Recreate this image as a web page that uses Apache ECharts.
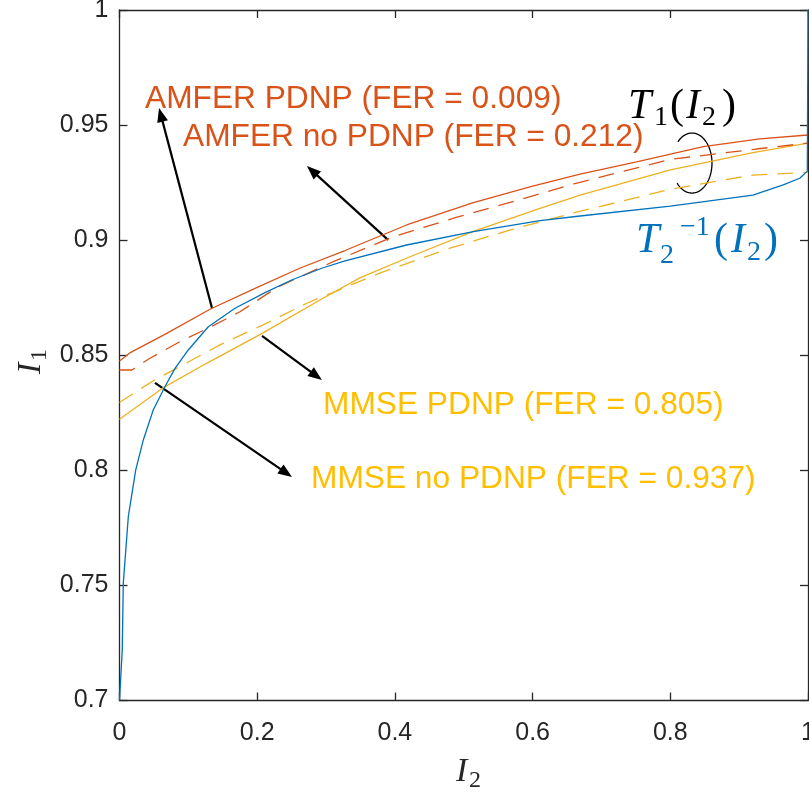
<!DOCTYPE html>
<html><head><meta charset="utf-8">
<script src="https://cdn.jsdelivr.net/npm/echarts@6/dist/echarts.min.js"></script>
<style>html,body{margin:0;padding:0;background:#fff}#c{width:809px;height:800px}</style>
</head><body><div id="c"></div>
<script>
// ---- data ----
const xTicks = [0, 0.2, 0.4, 0.6, 0.8, 1];
const yTicks = [0.7, 0.75, 0.8, 0.85, 0.9, 0.95, 1];

const t2Inverse = [[0,0.7],[0.004,0.7219],[0.0055,0.751],[0.0128,0.7799],[0.0235,0.8001],[0.0346,0.8132],[0.049,0.8262],[0.066,0.8363],[0.0806,0.8443],[0.0999,0.8523],[0.129,0.8624],[0.1678,0.8704],[0.2113,0.8772],[0.2501,0.8827],[0.2937,0.8878],[0.3275,0.891],[0.417,0.8979],[0.514,0.9037],[0.611,0.9085],[0.669,0.9105],[0.8,0.9148],[0.92,0.9196],[0.964,0.924],[0.988,0.9269],[0.999,0.930],[1,1.0]];
const amferPdnp = [[0,0.8475],[0.015,0.851],[0.0686,0.8595],[0.1314,0.870],[0.2,0.8795],[0.2625,0.8879],[0.3275,0.8955],[0.417,0.9066],[0.514,0.9163],[0.6,0.9235],[0.669,0.9287],[0.751,0.934],[0.848,0.9406],[0.93,0.944],[1,0.9457]];
const amferNoPdnp = [[0,0.8436],[0.018,0.8436],[0.0443,0.8487],[0.0879,0.8559],[0.131,0.8621],[0.175,0.8689],[0.230,0.8797],[0.313,0.891],[0.397,0.9014],[0.490,0.910],[0.577,0.9172],[0.66,0.9245],[0.8,0.9351],[0.925,0.9396],[1,0.9422]];
const mmseNoPdnp = [[0,0.8222],[0.063,0.8358],[0.1266,0.8465],[0.2085,0.8597],[0.291,0.874],[0.349,0.8836],[0.422,0.8928],[0.513,0.9037],[0.6107,0.9138],[0.669,0.9196],[0.8,0.9305],[0.92,0.938],[1,0.9422]];
const mmsePdnp = [[0,0.8295],[0.049,0.8389],[0.1024,0.8475],[0.146,0.8545],[0.2085,0.8632],[0.272,0.8726],[0.378,0.8857],[0.48,0.8965],[0.567,0.9044],[0.659,0.9118],[0.8,0.9221],[0.92,0.9283],[0.993,0.9293],[1,0.9295]];

// annotation arrows: [tail, head] in data units
const arrows = [
  [[0.1343,0.8705],[0.0574,0.9574]],
  [[0.39,0.9001],[0.2723,0.9322]],
  [[0.207,0.8584],[0.294,0.8393]],
  [[0.0516,0.838],[0.2505,0.7971]]
];
const ellipseCenter = [0.8315, 0.9335];

const labelTexts = [
  {text:'AMFER PDNP (FER = 0.009)', x:145, y:99, color:'#D95319'},
  {text:'AMFER no PDNP (FER = 0.212)', x:183, y:137, color:'#D95319'},
  {text:'MMSE PDNP (FER = 0.805)', x:323, y:405, color:'#FFBF00'},
  {text:'MMSE no PDNP (FER = 0.937)', x:311, y:479, color:'#FFBF00'}
];

// ---- chart ----
const AX = '#262626';
const chart = echarts.init(document.getElementById('c'));
function fmt(v){ return String(+v.toFixed(2)); }
const baseX = {type:'value', min:0, max:1, interval:0.2,
  axisLine:{show:true, onZero:false, lineStyle:{color:AX, width:1.3}},
  axisTick:{show:true, inside:true, length:8, lineStyle:{color:AX, width:1.3}},
  splitLine:{show:false}};
const baseY = {type:'value', min:0.7, max:1, interval:0.05,
  axisLine:{show:true, onZero:false, lineStyle:{color:AX, width:1.3}},
  axisTick:{show:true, inside:true, length:8, lineStyle:{color:AX, width:1.3}},
  splitLine:{show:false}};
const lineSeries = (name, data, color, dashed) => ({
  name, type:'line', data, showSymbol:false, symbol:'none', smooth:false,
  xAxisIndex:0, yAxisIndex:0,
  lineStyle:{color, width:1.3, type: dashed ? [16,10] : 'solid'},
  emphasis:{disabled:true}, animation:false
});
chart.setOption({
  animation:false,
  grid:{left:119.5, right:1, top:10, bottom:99.5, outerBoundsMode:'none', containLabel:false},
  xAxis:[
    Object.assign({}, baseX, {position:'bottom',
      axisLabel:{color:AX, fontSize:25, fontFamily:'Liberation Sans', margin:20, formatter:fmt}}),
    Object.assign({}, baseX, {position:'top', axisLabel:{show:false}})
  ],
  yAxis:[
    Object.assign({}, baseY, {position:'left',
      axisLabel:{color:AX, fontSize:25, fontFamily:'Liberation Sans', margin:11, formatter:fmt}}),
    Object.assign({}, baseY, {position:'right', axisLabel:{show:false}})
  ],
  series:[
    lineSeries('MMSE no PDNP', mmseNoPdnp, '#EDB120', false),
    lineSeries('MMSE PDNP', mmsePdnp, '#EDB120', true),
    lineSeries('AMFER no PDNP', amferNoPdnp, '#D95319', true),
    lineSeries('AMFER PDNP', amferPdnp, '#D95319', false),
    lineSeries('T2inv', t2Inverse, '#0072BD', false)
  ]
});

// ---- annotations ----
const px = p => chart.convertToPixel({gridIndex:0}, p);
const g = [];
arrows.forEach(([t, h]) => {
  const a = px(t), b = px(h);
  const dx = b[0]-a[0], dy = b[1]-a[1], L = Math.hypot(dx, dy);
  const ux = dx/L, uy = dy/L, hl = 14, hw = 5.5;
  const bx = b[0]-ux*hl, by = b[1]-uy*hl;
  g.push({type:'line', shape:{x1:a[0], y1:a[1], x2:bx+ux*2, y2:by+uy*2}, style:{stroke:'#000', lineWidth:2.2}, silent:true});
  g.push({type:'polygon', shape:{points:[[b[0],b[1]],[bx-uy*hw, by+ux*hw],[bx+uy*hw, by-ux*hw]]}, style:{fill:'#000'}, silent:true});
});
// open ellipse around the T1 curves
(function(){
  const c = px(ellipseCenter), rx = 20, ry = 30, pts = [];
  for (let a = -135; a <= 139; a += 3) {
    const r = a*Math.PI/180;
    pts.push([c[0]+rx*Math.cos(r), c[1]+ry*Math.sin(r)]);
  }
  g.push({type:'polyline', shape:{points:pts}, style:{stroke:'#000', lineWidth:1.3, fill:null}, silent:true});
})();
labelTexts.forEach(l => g.push({type:'text', x:l.x, y:l.y, silent:true,
  style:{text:l.text, fill:l.color, font:'31.7px "Liberation Sans"', align:'left', verticalAlign:'middle'}}));

// math labels
function mt(text, x, y, size, italic, color){
  return {type:'text', x, y, silent:true, style:{text, fill:color,
    font:(italic?'italic ':'')+size+'px "Liberation Serif"', align:'left', verticalAlign:'middle'}};
}
const K = '#000', B = '#0072BD';
g.push(mt('T', 628, 107, 42, true, K));
g.push(mt('1', 654, 118, 28, false, K));
g.push(mt('(', 670, 107, 42, false, K));
g.push(mt('I', 686, 107, 42, true, K));
g.push(mt('2', 702, 118, 28, false, K));
g.push(mt(')', 722, 107, 42, false, K));

g.push(mt('T', 636, 241, 42, true, B));
g.push(mt('2', 660, 256, 28, false, B));
g.push(mt('\u22121', 680, 228, 28, false, B));
g.push(mt('(', 714, 241, 42, false, B));
g.push(mt('I', 731, 241, 42, true, B));
g.push(mt('2', 747, 253, 28, false, B));
g.push(mt(')', 764, 241, 42, false, B));

// axis titles
g.push(mt('I', 456, 772, 34, true, AX));
g.push(mt('2', 469, 781, 24, false, AX));
g.push({type:'group', x:31, y:374, rotation:Math.PI/2, silent:true, children:[
  mt('I', 0, 0, 34, true, AX),
  mt('1', 13, 9, 24, false, AX)
]});
chart.setOption({graphic:{elements:g}});
</script></body></html>
